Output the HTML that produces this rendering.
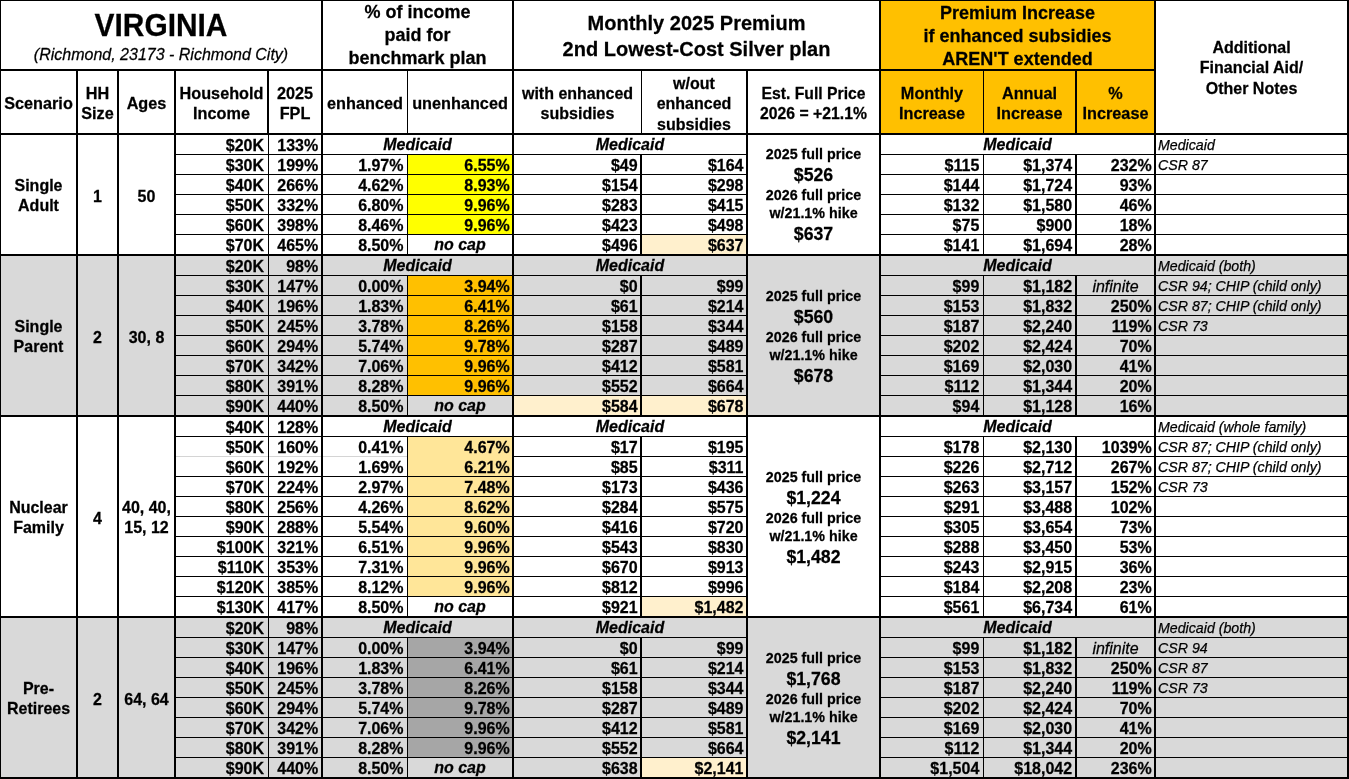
<!DOCTYPE html>
<html lang="en"><head><meta charset="utf-8"><title>Virginia premium table</title>
<style>
html,body{margin:0;padding:0;background:#fff}
body{width:1349px;height:779px;position:relative;overflow:hidden;font-family:"Liberation Sans",Arial,Helvetica,sans-serif;color:#000;font-weight:700;font-size:16px;line-height:20px}
.b,.k,.t{position:absolute}
#tx{position:absolute;left:0;top:0;width:1349px;height:779px;will-change:transform;-webkit-text-stroke:0.25px #000}
.k{background:#000}
.t{display:flex;align-items:center;white-space:nowrap;--dy:0.6px;--sy:1.05}
.t span{display:block;width:100%;transform:translateY(var(--dy)) scaleY(var(--sy));transform-origin:50% 50%}
.c{text-align:center}
.r{text-align:right}
.it{font-style:italic;font-weight:400}
.bi{font-style:italic;--dy:0px}
.n{font-size:14.2px;text-align:left;padding-left:2px;--dy:0.2px;--sy:1.0}
i{font-style:normal;display:block}
.est .s{font-size:14.3px;line-height:17.05px}
.est .g{font-size:17.7px;line-height:20.6px}
.est .s1{line-height:19.2px}
.est .g2{line-height:22.9px}
.hd0{--dy:1.0px}
.ttl{font-size:29.9px;line-height:33px}
.sub{font-size:16px;line-height:21px;font-style:italic;font-weight:400;position:relative;top:0.6px}
.h1{font-size:18px;line-height:21.9px;--dy:1.1px}
.h1b{font-size:20px;line-height:24.1px}
.h1c{font-size:18px;line-height:22.2px}
.h2{font-size:16.25px;line-height:19.3px;--dy:1.6px}
.h2b{font-size:16px}
.h2c{font-size:15.75px}
.h3{font-size:16px;line-height:19.3px}
.sc{line-height:19.3px;--dy:1.6px}
</style></head>
<body>
<div class="b" style="left:881px;top:1px;width:273px;height:132px;background:#ffc000"></div>
<div class="b" style="left:408px;top:155px;width:104px;height:19px;background:#ffff00"></div>
<div class="b" style="left:408px;top:175px;width:104px;height:19px;background:#ffff00"></div>
<div class="b" style="left:408px;top:195px;width:104px;height:19px;background:#ffff00"></div>
<div class="b" style="left:408px;top:215px;width:104px;height:19px;background:#ffff00"></div>
<div class="b" style="left:642px;top:235px;width:104px;height:19px;background:#fff0cd"></div>
<div class="b" style="left:1px;top:256px;width:1346px;height:159px;background:#d9d9d9"></div>
<div class="b" style="left:408px;top:276px;width:104px;height:19px;background:#ffc000"></div>
<div class="b" style="left:408px;top:296px;width:104px;height:19px;background:#ffc000"></div>
<div class="b" style="left:408px;top:316px;width:104px;height:19px;background:#ffc000"></div>
<div class="b" style="left:408px;top:336px;width:104px;height:19px;background:#ffc000"></div>
<div class="b" style="left:408px;top:356px;width:104px;height:19px;background:#ffc000"></div>
<div class="b" style="left:408px;top:376px;width:104px;height:19px;background:#ffc000"></div>
<div class="b" style="left:514px;top:396px;width:126px;height:19px;background:#fff0cd"></div>
<div class="b" style="left:642px;top:396px;width:104px;height:19px;background:#fff0cd"></div>
<div class="b" style="left:408px;top:437px;width:104px;height:20px;background:#ffe699"></div>
<div class="b" style="left:408px;top:457px;width:104px;height:19px;background:#ffe699"></div>
<div class="b" style="left:408px;top:477px;width:104px;height:19px;background:#ffe699"></div>
<div class="b" style="left:408px;top:497px;width:104px;height:19px;background:#ffe699"></div>
<div class="b" style="left:408px;top:517px;width:104px;height:19px;background:#ffe699"></div>
<div class="b" style="left:408px;top:537px;width:104px;height:19px;background:#ffe699"></div>
<div class="b" style="left:408px;top:557px;width:104px;height:19px;background:#ffe699"></div>
<div class="b" style="left:408px;top:577px;width:104px;height:19px;background:#ffe699"></div>
<div class="b" style="left:642px;top:597px;width:104px;height:19px;background:#fff0cd"></div>
<div class="b" style="left:1px;top:618px;width:1346px;height:159px;background:#d9d9d9"></div>
<div class="b" style="left:408px;top:638px;width:104px;height:19px;background:#a6a6a6"></div>
<div class="b" style="left:408px;top:658px;width:104px;height:19px;background:#a6a6a6"></div>
<div class="b" style="left:408px;top:678px;width:104px;height:19px;background:#a6a6a6"></div>
<div class="b" style="left:408px;top:698px;width:104px;height:19px;background:#a6a6a6"></div>
<div class="b" style="left:408px;top:718px;width:104px;height:19px;background:#a6a6a6"></div>
<div class="b" style="left:408px;top:738px;width:104px;height:19px;background:#a6a6a6"></div>
<div class="b" style="left:642px;top:758px;width:104px;height:19px;background:#fff0cd"></div>
<div class="k" style="left:0px;top:0px;width:1349px;height:1px"></div>
<div class="k" style="left:0px;top:0px;width:1px;height:779px"></div>
<div class="k" style="left:1347px;top:0px;width:2px;height:779px"></div>
<div class="k" style="left:0px;top:777px;width:1349px;height:2px"></div>
<div class="k" style="left:0px;top:69px;width:1154px;height:2px"></div>
<div class="k" style="left:0px;top:133px;width:1349px;height:2px"></div>
<div class="k" style="left:321px;top:0px;width:2px;height:69px"></div>
<div class="k" style="left:512px;top:0px;width:2px;height:69px"></div>
<div class="k" style="left:879px;top:0px;width:2px;height:69px"></div>
<div class="k" style="left:1154px;top:0px;width:2px;height:69px"></div>
<div class="k" style="left:76px;top:69px;width:2px;height:66px"></div>
<div class="k" style="left:117px;top:69px;width:2px;height:66px"></div>
<div class="k" style="left:174px;top:69px;width:2px;height:66px"></div>
<div class="k" style="left:267px;top:69px;width:2px;height:66px"></div>
<div class="k" style="left:321px;top:69px;width:2px;height:66px"></div>
<div class="k" style="left:407px;top:69px;width:1px;height:66px"></div>
<div class="k" style="left:512px;top:69px;width:2px;height:66px"></div>
<div class="k" style="left:641px;top:69px;width:1px;height:66px"></div>
<div class="k" style="left:746px;top:69px;width:2px;height:66px"></div>
<div class="k" style="left:879px;top:69px;width:2px;height:66px"></div>
<div class="k" style="left:983px;top:69px;width:1px;height:66px"></div>
<div class="k" style="left:1075px;top:69px;width:2px;height:66px"></div>
<div class="k" style="left:1154px;top:69px;width:2px;height:66px"></div>
<div class="k" style="left:76px;top:134px;width:2px;height:645px"></div>
<div class="k" style="left:117px;top:134px;width:2px;height:645px"></div>
<div class="k" style="left:174px;top:134px;width:2px;height:645px"></div>
<div class="k" style="left:321px;top:134px;width:2px;height:645px"></div>
<div class="k" style="left:512px;top:134px;width:2px;height:645px"></div>
<div class="k" style="left:746px;top:134px;width:2px;height:645px"></div>
<div class="k" style="left:879px;top:134px;width:2px;height:645px"></div>
<div class="k" style="left:1154px;top:134px;width:2px;height:645px"></div>
<div class="k" style="left:176px;top:154px;width:570px;height:1px"></div>
<div class="k" style="left:881px;top:154px;width:466px;height:1px"></div>
<div class="k" style="left:268px;top:134px;width:1px;height:21px"></div>
<div class="k" style="left:176px;top:174px;width:570px;height:1px"></div>
<div class="k" style="left:881px;top:174px;width:466px;height:1px"></div>
<div class="k" style="left:268px;top:154px;width:1px;height:21px"></div>
<div class="k" style="left:407px;top:154px;width:1px;height:21px"></div>
<div class="k" style="left:640px;top:154px;width:2px;height:21px"></div>
<div class="k" style="left:983px;top:154px;width:1px;height:21px"></div>
<div class="k" style="left:1075px;top:154px;width:2px;height:21px"></div>
<div class="k" style="left:176px;top:194px;width:570px;height:1px"></div>
<div class="k" style="left:881px;top:194px;width:466px;height:1px"></div>
<div class="k" style="left:268px;top:174px;width:1px;height:21px"></div>
<div class="k" style="left:407px;top:174px;width:1px;height:21px"></div>
<div class="k" style="left:640px;top:174px;width:2px;height:21px"></div>
<div class="k" style="left:983px;top:174px;width:1px;height:21px"></div>
<div class="k" style="left:1075px;top:174px;width:2px;height:21px"></div>
<div class="k" style="left:176px;top:214px;width:570px;height:1px"></div>
<div class="k" style="left:881px;top:214px;width:466px;height:1px"></div>
<div class="k" style="left:268px;top:194px;width:1px;height:21px"></div>
<div class="k" style="left:407px;top:194px;width:1px;height:21px"></div>
<div class="k" style="left:640px;top:194px;width:2px;height:21px"></div>
<div class="k" style="left:983px;top:194px;width:1px;height:21px"></div>
<div class="k" style="left:1075px;top:194px;width:2px;height:21px"></div>
<div class="k" style="left:176px;top:234px;width:570px;height:1px"></div>
<div class="k" style="left:881px;top:234px;width:466px;height:1px"></div>
<div class="k" style="left:268px;top:214px;width:1px;height:21px"></div>
<div class="k" style="left:407px;top:214px;width:1px;height:21px"></div>
<div class="k" style="left:640px;top:214px;width:2px;height:21px"></div>
<div class="k" style="left:983px;top:214px;width:1px;height:21px"></div>
<div class="k" style="left:1075px;top:214px;width:2px;height:21px"></div>
<div class="k" style="left:268px;top:234px;width:1px;height:21px"></div>
<div class="k" style="left:407px;top:234px;width:1px;height:21px"></div>
<div class="k" style="left:640px;top:234px;width:2px;height:21px"></div>
<div class="k" style="left:983px;top:234px;width:1px;height:21px"></div>
<div class="k" style="left:1075px;top:234px;width:2px;height:21px"></div>
<div class="k" style="left:0px;top:254px;width:1349px;height:2px"></div>
<div class="k" style="left:176px;top:275px;width:570px;height:1px"></div>
<div class="k" style="left:881px;top:275px;width:466px;height:1px"></div>
<div class="k" style="left:268px;top:255px;width:1px;height:21px"></div>
<div class="k" style="left:176px;top:295px;width:570px;height:1px"></div>
<div class="k" style="left:881px;top:295px;width:466px;height:1px"></div>
<div class="k" style="left:268px;top:275px;width:1px;height:21px"></div>
<div class="k" style="left:407px;top:275px;width:1px;height:21px"></div>
<div class="k" style="left:640px;top:275px;width:2px;height:21px"></div>
<div class="k" style="left:983px;top:275px;width:1px;height:21px"></div>
<div class="k" style="left:1075px;top:275px;width:2px;height:21px"></div>
<div class="k" style="left:176px;top:315px;width:570px;height:1px"></div>
<div class="k" style="left:881px;top:315px;width:466px;height:1px"></div>
<div class="k" style="left:268px;top:295px;width:1px;height:21px"></div>
<div class="k" style="left:407px;top:295px;width:1px;height:21px"></div>
<div class="k" style="left:640px;top:295px;width:2px;height:21px"></div>
<div class="k" style="left:983px;top:295px;width:1px;height:21px"></div>
<div class="k" style="left:1075px;top:295px;width:2px;height:21px"></div>
<div class="k" style="left:176px;top:335px;width:570px;height:1px"></div>
<div class="k" style="left:881px;top:335px;width:466px;height:1px"></div>
<div class="k" style="left:268px;top:315px;width:1px;height:21px"></div>
<div class="k" style="left:407px;top:315px;width:1px;height:21px"></div>
<div class="k" style="left:640px;top:315px;width:2px;height:21px"></div>
<div class="k" style="left:983px;top:315px;width:1px;height:21px"></div>
<div class="k" style="left:1075px;top:315px;width:2px;height:21px"></div>
<div class="k" style="left:176px;top:355px;width:570px;height:1px"></div>
<div class="k" style="left:881px;top:355px;width:466px;height:1px"></div>
<div class="k" style="left:268px;top:335px;width:1px;height:21px"></div>
<div class="k" style="left:407px;top:335px;width:1px;height:21px"></div>
<div class="k" style="left:640px;top:335px;width:2px;height:21px"></div>
<div class="k" style="left:983px;top:335px;width:1px;height:21px"></div>
<div class="k" style="left:1075px;top:335px;width:2px;height:21px"></div>
<div class="k" style="left:176px;top:375px;width:570px;height:1px"></div>
<div class="k" style="left:881px;top:375px;width:466px;height:1px"></div>
<div class="k" style="left:268px;top:355px;width:1px;height:21px"></div>
<div class="k" style="left:407px;top:355px;width:1px;height:21px"></div>
<div class="k" style="left:640px;top:355px;width:2px;height:21px"></div>
<div class="k" style="left:983px;top:355px;width:1px;height:21px"></div>
<div class="k" style="left:1075px;top:355px;width:2px;height:21px"></div>
<div class="k" style="left:176px;top:395px;width:570px;height:1px"></div>
<div class="k" style="left:881px;top:395px;width:466px;height:1px"></div>
<div class="k" style="left:268px;top:375px;width:1px;height:21px"></div>
<div class="k" style="left:407px;top:375px;width:1px;height:21px"></div>
<div class="k" style="left:640px;top:375px;width:2px;height:21px"></div>
<div class="k" style="left:983px;top:375px;width:1px;height:21px"></div>
<div class="k" style="left:1075px;top:375px;width:2px;height:21px"></div>
<div class="k" style="left:268px;top:395px;width:1px;height:21px"></div>
<div class="k" style="left:407px;top:395px;width:1px;height:21px"></div>
<div class="k" style="left:640px;top:395px;width:2px;height:21px"></div>
<div class="k" style="left:983px;top:395px;width:1px;height:21px"></div>
<div class="k" style="left:1075px;top:395px;width:2px;height:21px"></div>
<div class="k" style="left:0px;top:415px;width:1349px;height:2px"></div>
<div class="k" style="left:176px;top:436px;width:570px;height:1px"></div>
<div class="k" style="left:881px;top:436px;width:466px;height:1px"></div>
<div class="k" style="left:268px;top:416px;width:1px;height:21px"></div>
<div class="k" style="left:176px;top:456px;width:92px;height:1px;background:#d4d4d4"></div>
<div class="k" style="left:269px;top:456px;width:52px;height:1px;background:#d4d4d4"></div>
<div class="k" style="left:323px;top:456px;width:84px;height:1px;background:#d4d4d4"></div>
<div class="k" style="left:514px;top:456px;width:232px;height:1px"></div>
<div class="k" style="left:881px;top:456px;width:466px;height:1px"></div>
<div class="k" style="left:268px;top:436px;width:1px;height:21px"></div>
<div class="k" style="left:407px;top:436px;width:1px;height:21px"></div>
<div class="k" style="left:640px;top:436px;width:2px;height:21px"></div>
<div class="k" style="left:983px;top:436px;width:1px;height:21px"></div>
<div class="k" style="left:1075px;top:436px;width:2px;height:21px"></div>
<div class="k" style="left:176px;top:476px;width:570px;height:1px"></div>
<div class="k" style="left:881px;top:476px;width:466px;height:1px"></div>
<div class="k" style="left:268px;top:456px;width:1px;height:21px"></div>
<div class="k" style="left:407px;top:456px;width:1px;height:21px"></div>
<div class="k" style="left:640px;top:456px;width:2px;height:21px"></div>
<div class="k" style="left:983px;top:456px;width:1px;height:21px"></div>
<div class="k" style="left:1075px;top:456px;width:2px;height:21px"></div>
<div class="k" style="left:176px;top:496px;width:570px;height:1px"></div>
<div class="k" style="left:881px;top:496px;width:466px;height:1px"></div>
<div class="k" style="left:268px;top:476px;width:1px;height:21px"></div>
<div class="k" style="left:407px;top:476px;width:1px;height:21px"></div>
<div class="k" style="left:640px;top:476px;width:2px;height:21px"></div>
<div class="k" style="left:983px;top:476px;width:1px;height:21px"></div>
<div class="k" style="left:1075px;top:476px;width:2px;height:21px"></div>
<div class="k" style="left:176px;top:516px;width:570px;height:1px"></div>
<div class="k" style="left:881px;top:516px;width:466px;height:1px"></div>
<div class="k" style="left:268px;top:496px;width:1px;height:21px"></div>
<div class="k" style="left:407px;top:496px;width:1px;height:21px"></div>
<div class="k" style="left:640px;top:496px;width:2px;height:21px"></div>
<div class="k" style="left:983px;top:496px;width:1px;height:21px"></div>
<div class="k" style="left:1075px;top:496px;width:2px;height:21px"></div>
<div class="k" style="left:176px;top:536px;width:570px;height:1px"></div>
<div class="k" style="left:881px;top:536px;width:466px;height:1px"></div>
<div class="k" style="left:268px;top:516px;width:1px;height:21px"></div>
<div class="k" style="left:407px;top:516px;width:1px;height:21px"></div>
<div class="k" style="left:640px;top:516px;width:2px;height:21px"></div>
<div class="k" style="left:983px;top:516px;width:1px;height:21px"></div>
<div class="k" style="left:1075px;top:516px;width:2px;height:21px"></div>
<div class="k" style="left:176px;top:556px;width:570px;height:1px"></div>
<div class="k" style="left:881px;top:556px;width:466px;height:1px"></div>
<div class="k" style="left:268px;top:536px;width:1px;height:21px"></div>
<div class="k" style="left:407px;top:536px;width:1px;height:21px"></div>
<div class="k" style="left:640px;top:536px;width:2px;height:21px"></div>
<div class="k" style="left:983px;top:536px;width:1px;height:21px"></div>
<div class="k" style="left:1075px;top:536px;width:2px;height:21px"></div>
<div class="k" style="left:176px;top:576px;width:570px;height:1px"></div>
<div class="k" style="left:881px;top:576px;width:466px;height:1px"></div>
<div class="k" style="left:268px;top:556px;width:1px;height:21px"></div>
<div class="k" style="left:407px;top:556px;width:1px;height:21px"></div>
<div class="k" style="left:640px;top:556px;width:2px;height:21px"></div>
<div class="k" style="left:983px;top:556px;width:1px;height:21px"></div>
<div class="k" style="left:1075px;top:556px;width:2px;height:21px"></div>
<div class="k" style="left:176px;top:596px;width:570px;height:1px"></div>
<div class="k" style="left:881px;top:596px;width:466px;height:1px"></div>
<div class="k" style="left:268px;top:576px;width:1px;height:21px"></div>
<div class="k" style="left:407px;top:576px;width:1px;height:21px"></div>
<div class="k" style="left:640px;top:576px;width:2px;height:21px"></div>
<div class="k" style="left:983px;top:576px;width:1px;height:21px"></div>
<div class="k" style="left:1075px;top:576px;width:2px;height:21px"></div>
<div class="k" style="left:268px;top:596px;width:1px;height:21px"></div>
<div class="k" style="left:407px;top:596px;width:1px;height:21px"></div>
<div class="k" style="left:640px;top:596px;width:2px;height:21px"></div>
<div class="k" style="left:983px;top:596px;width:1px;height:21px"></div>
<div class="k" style="left:1075px;top:596px;width:2px;height:21px"></div>
<div class="k" style="left:0px;top:616px;width:1349px;height:2px"></div>
<div class="k" style="left:176px;top:637px;width:570px;height:1px"></div>
<div class="k" style="left:881px;top:637px;width:466px;height:1px"></div>
<div class="k" style="left:268px;top:617px;width:1px;height:21px"></div>
<div class="k" style="left:176px;top:657px;width:570px;height:1px"></div>
<div class="k" style="left:881px;top:657px;width:466px;height:1px"></div>
<div class="k" style="left:268px;top:637px;width:1px;height:21px"></div>
<div class="k" style="left:407px;top:637px;width:1px;height:21px"></div>
<div class="k" style="left:640px;top:637px;width:2px;height:21px"></div>
<div class="k" style="left:983px;top:637px;width:1px;height:21px"></div>
<div class="k" style="left:1075px;top:637px;width:2px;height:21px"></div>
<div class="k" style="left:176px;top:677px;width:570px;height:1px"></div>
<div class="k" style="left:881px;top:677px;width:466px;height:1px"></div>
<div class="k" style="left:268px;top:657px;width:1px;height:21px"></div>
<div class="k" style="left:407px;top:657px;width:1px;height:21px"></div>
<div class="k" style="left:640px;top:657px;width:2px;height:21px"></div>
<div class="k" style="left:983px;top:657px;width:1px;height:21px"></div>
<div class="k" style="left:1075px;top:657px;width:2px;height:21px"></div>
<div class="k" style="left:176px;top:697px;width:570px;height:1px"></div>
<div class="k" style="left:881px;top:697px;width:466px;height:1px"></div>
<div class="k" style="left:268px;top:677px;width:1px;height:21px"></div>
<div class="k" style="left:407px;top:677px;width:1px;height:21px"></div>
<div class="k" style="left:640px;top:677px;width:2px;height:21px"></div>
<div class="k" style="left:983px;top:677px;width:1px;height:21px"></div>
<div class="k" style="left:1075px;top:677px;width:2px;height:21px"></div>
<div class="k" style="left:176px;top:717px;width:570px;height:1px"></div>
<div class="k" style="left:881px;top:717px;width:466px;height:1px"></div>
<div class="k" style="left:268px;top:697px;width:1px;height:21px"></div>
<div class="k" style="left:407px;top:697px;width:1px;height:21px"></div>
<div class="k" style="left:640px;top:697px;width:2px;height:21px"></div>
<div class="k" style="left:983px;top:697px;width:1px;height:21px"></div>
<div class="k" style="left:1075px;top:697px;width:2px;height:21px"></div>
<div class="k" style="left:176px;top:737px;width:570px;height:1px"></div>
<div class="k" style="left:881px;top:737px;width:466px;height:1px"></div>
<div class="k" style="left:268px;top:717px;width:1px;height:21px"></div>
<div class="k" style="left:407px;top:717px;width:1px;height:21px"></div>
<div class="k" style="left:640px;top:717px;width:2px;height:21px"></div>
<div class="k" style="left:983px;top:717px;width:1px;height:21px"></div>
<div class="k" style="left:1075px;top:717px;width:2px;height:21px"></div>
<div class="k" style="left:176px;top:757px;width:570px;height:1px"></div>
<div class="k" style="left:881px;top:757px;width:466px;height:1px"></div>
<div class="k" style="left:268px;top:737px;width:1px;height:21px"></div>
<div class="k" style="left:407px;top:737px;width:1px;height:21px"></div>
<div class="k" style="left:640px;top:737px;width:2px;height:21px"></div>
<div class="k" style="left:983px;top:737px;width:1px;height:21px"></div>
<div class="k" style="left:1075px;top:737px;width:2px;height:21px"></div>
<div class="k" style="left:268px;top:757px;width:1px;height:21px"></div>
<div class="k" style="left:407px;top:757px;width:1px;height:21px"></div>
<div class="k" style="left:640px;top:757px;width:2px;height:21px"></div>
<div class="k" style="left:983px;top:757px;width:1px;height:21px"></div>
<div class="k" style="left:1075px;top:757px;width:2px;height:21px"></div>
<div id="tx">
<div class="t c sc" style="left:1px;top:135px;width:75px;height:119px;"><span>Single<br>Adult</span></div>
<div class="t c sc" style="left:78px;top:135px;width:39px;height:119px;"><span>1</span></div>
<div class="t c sc" style="left:119px;top:135px;width:55px;height:119px;"><span>50</span></div>
<div class="t c est" style="left:748px;top:135px;width:131px;height:119px;--dy:1.1px"><span><i class="s s1">2025 full price</i><i class="g g1">$526</i><i class="s s2">2026 full price</i><i class="s s2">w/21.1% hike</i><i class="g g2">$637</i></span></div>
<div class="t r" style="left:176px;top:135px;width:88px;height:19px;"><span>$20K</span></div>
<div class="t r" style="left:269px;top:135px;width:49.2px;height:19px;"><span>133%</span></div>
<div class="t c bi" style="left:323px;top:135px;width:189px;height:19px;"><span>Medicaid</span></div>
<div class="t c bi" style="left:514px;top:135px;width:232px;height:19px;"><span>Medicaid</span></div>
<div class="t c bi" style="left:881px;top:135px;width:273px;height:19px;"><span>Medicaid</span></div>
<div class="t lf it n" style="left:1156px;top:135px;width:191px;height:19px;"><span>Medicaid</span></div>
<div class="t r" style="left:176px;top:155px;width:88px;height:19px;"><span>$30K</span></div>
<div class="t r" style="left:269px;top:155px;width:49.2px;height:19px;"><span>199%</span></div>
<div class="t r" style="left:323px;top:155px;width:80.5px;height:19px;"><span>1.97%</span></div>
<div class="t r" style="left:408px;top:155px;width:101.7px;height:19px;"><span>6.55%</span></div>
<div class="t r" style="left:514px;top:155px;width:123.6px;height:19px;"><span>$49</span></div>
<div class="t r" style="left:642px;top:155px;width:101.5px;height:19px;"><span>$164</span></div>
<div class="t r" style="left:881px;top:155px;width:98.3px;height:19px;"><span>$115</span></div>
<div class="t r" style="left:984px;top:155px;width:88.1px;height:19px;"><span>$1,374</span></div>
<div class="t r" style="left:1077px;top:155px;width:74.7px;height:19px;"><span>232%</span></div>
<div class="t lf it n" style="left:1156px;top:155px;width:191px;height:19px;"><span>CSR 87</span></div>
<div class="t r" style="left:176px;top:175px;width:88px;height:19px;"><span>$40K</span></div>
<div class="t r" style="left:269px;top:175px;width:49.2px;height:19px;"><span>266%</span></div>
<div class="t r" style="left:323px;top:175px;width:80.5px;height:19px;"><span>4.62%</span></div>
<div class="t r" style="left:408px;top:175px;width:101.7px;height:19px;"><span>8.93%</span></div>
<div class="t r" style="left:514px;top:175px;width:123.6px;height:19px;"><span>$154</span></div>
<div class="t r" style="left:642px;top:175px;width:101.5px;height:19px;"><span>$298</span></div>
<div class="t r" style="left:881px;top:175px;width:98.3px;height:19px;"><span>$144</span></div>
<div class="t r" style="left:984px;top:175px;width:88.1px;height:19px;"><span>$1,724</span></div>
<div class="t r" style="left:1077px;top:175px;width:74.7px;height:19px;"><span>93%</span></div>
<div class="t r" style="left:176px;top:195px;width:88px;height:19px;"><span>$50K</span></div>
<div class="t r" style="left:269px;top:195px;width:49.2px;height:19px;"><span>332%</span></div>
<div class="t r" style="left:323px;top:195px;width:80.5px;height:19px;"><span>6.80%</span></div>
<div class="t r" style="left:408px;top:195px;width:101.7px;height:19px;"><span>9.96%</span></div>
<div class="t r" style="left:514px;top:195px;width:123.6px;height:19px;"><span>$283</span></div>
<div class="t r" style="left:642px;top:195px;width:101.5px;height:19px;"><span>$415</span></div>
<div class="t r" style="left:881px;top:195px;width:98.3px;height:19px;"><span>$132</span></div>
<div class="t r" style="left:984px;top:195px;width:88.1px;height:19px;"><span>$1,580</span></div>
<div class="t r" style="left:1077px;top:195px;width:74.7px;height:19px;"><span>46%</span></div>
<div class="t r" style="left:176px;top:215px;width:88px;height:19px;"><span>$60K</span></div>
<div class="t r" style="left:269px;top:215px;width:49.2px;height:19px;"><span>398%</span></div>
<div class="t r" style="left:323px;top:215px;width:80.5px;height:19px;"><span>8.46%</span></div>
<div class="t r" style="left:408px;top:215px;width:101.7px;height:19px;"><span>9.96%</span></div>
<div class="t r" style="left:514px;top:215px;width:123.6px;height:19px;"><span>$423</span></div>
<div class="t r" style="left:642px;top:215px;width:101.5px;height:19px;"><span>$498</span></div>
<div class="t r" style="left:881px;top:215px;width:98.3px;height:19px;"><span>$75</span></div>
<div class="t r" style="left:984px;top:215px;width:88.1px;height:19px;"><span>$900</span></div>
<div class="t r" style="left:1077px;top:215px;width:74.7px;height:19px;"><span>18%</span></div>
<div class="t r" style="left:176px;top:235px;width:88px;height:19px;"><span>$70K</span></div>
<div class="t r" style="left:269px;top:235px;width:49.2px;height:19px;"><span>465%</span></div>
<div class="t r" style="left:323px;top:235px;width:80.5px;height:19px;"><span>8.50%</span></div>
<div class="t c bi" style="left:408px;top:235px;width:104px;height:19px;"><span>no cap</span></div>
<div class="t r" style="left:514px;top:235px;width:123.6px;height:19px;"><span>$496</span></div>
<div class="t r" style="left:642px;top:235px;width:101.5px;height:19px;"><span>$637</span></div>
<div class="t r" style="left:881px;top:235px;width:98.3px;height:19px;"><span>$141</span></div>
<div class="t r" style="left:984px;top:235px;width:88.1px;height:19px;"><span>$1,694</span></div>
<div class="t r" style="left:1077px;top:235px;width:74.7px;height:19px;"><span>28%</span></div>
<div class="t c sc" style="left:1px;top:256px;width:75px;height:159px;"><span>Single<br>Parent</span></div>
<div class="t c sc" style="left:78px;top:256px;width:39px;height:159px;"><span>2</span></div>
<div class="t c sc" style="left:119px;top:256px;width:55px;height:159px;"><span>30, 8</span></div>
<div class="t c est" style="left:748px;top:256px;width:131px;height:159px;--dy:1.8px"><span><i class="s s1">2025 full price</i><i class="g g1">$560</i><i class="s s2">2026 full price</i><i class="s s2">w/21.1% hike</i><i class="g g2">$678</i></span></div>
<div class="t r" style="left:176px;top:256px;width:88px;height:19px;"><span>$20K</span></div>
<div class="t r" style="left:269px;top:256px;width:49.2px;height:19px;"><span>98%</span></div>
<div class="t c bi" style="left:323px;top:256px;width:189px;height:19px;"><span>Medicaid</span></div>
<div class="t c bi" style="left:514px;top:256px;width:232px;height:19px;"><span>Medicaid</span></div>
<div class="t c bi" style="left:881px;top:256px;width:273px;height:19px;"><span>Medicaid</span></div>
<div class="t lf it n" style="left:1156px;top:256px;width:191px;height:19px;"><span>Medicaid (both)</span></div>
<div class="t r" style="left:176px;top:276px;width:88px;height:19px;"><span>$30K</span></div>
<div class="t r" style="left:269px;top:276px;width:49.2px;height:19px;"><span>147%</span></div>
<div class="t r" style="left:323px;top:276px;width:80.5px;height:19px;"><span>0.00%</span></div>
<div class="t r" style="left:408px;top:276px;width:101.7px;height:19px;"><span>3.94%</span></div>
<div class="t r" style="left:514px;top:276px;width:123.6px;height:19px;"><span>$0</span></div>
<div class="t r" style="left:642px;top:276px;width:101.5px;height:19px;"><span>$99</span></div>
<div class="t r" style="left:881px;top:276px;width:98.3px;height:19px;"><span>$99</span></div>
<div class="t r" style="left:984px;top:276px;width:88.1px;height:19px;"><span>$1,182</span></div>
<div class="t c it" style="left:1077px;top:276px;width:77px;height:19px;"><span>infinite</span></div>
<div class="t lf it n" style="left:1156px;top:276px;width:191px;height:19px;"><span>CSR 94; CHIP (child only)</span></div>
<div class="t r" style="left:176px;top:296px;width:88px;height:19px;"><span>$40K</span></div>
<div class="t r" style="left:269px;top:296px;width:49.2px;height:19px;"><span>196%</span></div>
<div class="t r" style="left:323px;top:296px;width:80.5px;height:19px;"><span>1.83%</span></div>
<div class="t r" style="left:408px;top:296px;width:101.7px;height:19px;"><span>6.41%</span></div>
<div class="t r" style="left:514px;top:296px;width:123.6px;height:19px;"><span>$61</span></div>
<div class="t r" style="left:642px;top:296px;width:101.5px;height:19px;"><span>$214</span></div>
<div class="t r" style="left:881px;top:296px;width:98.3px;height:19px;"><span>$153</span></div>
<div class="t r" style="left:984px;top:296px;width:88.1px;height:19px;"><span>$1,832</span></div>
<div class="t r" style="left:1077px;top:296px;width:74.7px;height:19px;"><span>250%</span></div>
<div class="t lf it n" style="left:1156px;top:296px;width:191px;height:19px;"><span>CSR 87; CHIP (child only)</span></div>
<div class="t r" style="left:176px;top:316px;width:88px;height:19px;"><span>$50K</span></div>
<div class="t r" style="left:269px;top:316px;width:49.2px;height:19px;"><span>245%</span></div>
<div class="t r" style="left:323px;top:316px;width:80.5px;height:19px;"><span>3.78%</span></div>
<div class="t r" style="left:408px;top:316px;width:101.7px;height:19px;"><span>8.26%</span></div>
<div class="t r" style="left:514px;top:316px;width:123.6px;height:19px;"><span>$158</span></div>
<div class="t r" style="left:642px;top:316px;width:101.5px;height:19px;"><span>$344</span></div>
<div class="t r" style="left:881px;top:316px;width:98.3px;height:19px;"><span>$187</span></div>
<div class="t r" style="left:984px;top:316px;width:88.1px;height:19px;"><span>$2,240</span></div>
<div class="t r" style="left:1077px;top:316px;width:74.7px;height:19px;"><span>119%</span></div>
<div class="t lf it n" style="left:1156px;top:316px;width:191px;height:19px;"><span>CSR 73</span></div>
<div class="t r" style="left:176px;top:336px;width:88px;height:19px;"><span>$60K</span></div>
<div class="t r" style="left:269px;top:336px;width:49.2px;height:19px;"><span>294%</span></div>
<div class="t r" style="left:323px;top:336px;width:80.5px;height:19px;"><span>5.74%</span></div>
<div class="t r" style="left:408px;top:336px;width:101.7px;height:19px;"><span>9.78%</span></div>
<div class="t r" style="left:514px;top:336px;width:123.6px;height:19px;"><span>$287</span></div>
<div class="t r" style="left:642px;top:336px;width:101.5px;height:19px;"><span>$489</span></div>
<div class="t r" style="left:881px;top:336px;width:98.3px;height:19px;"><span>$202</span></div>
<div class="t r" style="left:984px;top:336px;width:88.1px;height:19px;"><span>$2,424</span></div>
<div class="t r" style="left:1077px;top:336px;width:74.7px;height:19px;"><span>70%</span></div>
<div class="t r" style="left:176px;top:356px;width:88px;height:19px;"><span>$70K</span></div>
<div class="t r" style="left:269px;top:356px;width:49.2px;height:19px;"><span>342%</span></div>
<div class="t r" style="left:323px;top:356px;width:80.5px;height:19px;"><span>7.06%</span></div>
<div class="t r" style="left:408px;top:356px;width:101.7px;height:19px;"><span>9.96%</span></div>
<div class="t r" style="left:514px;top:356px;width:123.6px;height:19px;"><span>$412</span></div>
<div class="t r" style="left:642px;top:356px;width:101.5px;height:19px;"><span>$581</span></div>
<div class="t r" style="left:881px;top:356px;width:98.3px;height:19px;"><span>$169</span></div>
<div class="t r" style="left:984px;top:356px;width:88.1px;height:19px;"><span>$2,030</span></div>
<div class="t r" style="left:1077px;top:356px;width:74.7px;height:19px;"><span>41%</span></div>
<div class="t r" style="left:176px;top:376px;width:88px;height:19px;"><span>$80K</span></div>
<div class="t r" style="left:269px;top:376px;width:49.2px;height:19px;"><span>391%</span></div>
<div class="t r" style="left:323px;top:376px;width:80.5px;height:19px;"><span>8.28%</span></div>
<div class="t r" style="left:408px;top:376px;width:101.7px;height:19px;"><span>9.96%</span></div>
<div class="t r" style="left:514px;top:376px;width:123.6px;height:19px;"><span>$552</span></div>
<div class="t r" style="left:642px;top:376px;width:101.5px;height:19px;"><span>$664</span></div>
<div class="t r" style="left:881px;top:376px;width:98.3px;height:19px;"><span>$112</span></div>
<div class="t r" style="left:984px;top:376px;width:88.1px;height:19px;"><span>$1,344</span></div>
<div class="t r" style="left:1077px;top:376px;width:74.7px;height:19px;"><span>20%</span></div>
<div class="t r" style="left:176px;top:396px;width:88px;height:19px;"><span>$90K</span></div>
<div class="t r" style="left:269px;top:396px;width:49.2px;height:19px;"><span>440%</span></div>
<div class="t r" style="left:323px;top:396px;width:80.5px;height:19px;"><span>8.50%</span></div>
<div class="t c bi" style="left:408px;top:396px;width:104px;height:19px;"><span>no cap</span></div>
<div class="t r" style="left:514px;top:396px;width:123.6px;height:19px;"><span>$584</span></div>
<div class="t r" style="left:642px;top:396px;width:101.5px;height:19px;"><span>$678</span></div>
<div class="t r" style="left:881px;top:396px;width:98.3px;height:19px;"><span>$94</span></div>
<div class="t r" style="left:984px;top:396px;width:88.1px;height:19px;"><span>$1,128</span></div>
<div class="t r" style="left:1077px;top:396px;width:74.7px;height:19px;"><span>16%</span></div>
<div class="t c sc" style="left:1px;top:417px;width:75px;height:199px;"><span>Nuclear<br>Family</span></div>
<div class="t c sc" style="left:78px;top:417px;width:39px;height:199px;"><span>4</span></div>
<div class="t c sc" style="left:119px;top:417px;width:55px;height:199px;"><span>40, 40,<br>15, 12</span></div>
<div class="t c est" style="left:748px;top:417px;width:131px;height:199px;--dy:1.8px"><span><i class="s s1">2025 full price</i><i class="g g1">$1,224</i><i class="s s2">2026 full price</i><i class="s s2">w/21.1% hike</i><i class="g g2">$1,482</i></span></div>
<div class="t r" style="left:176px;top:417px;width:88px;height:19px;"><span>$40K</span></div>
<div class="t r" style="left:269px;top:417px;width:49.2px;height:19px;"><span>128%</span></div>
<div class="t c bi" style="left:323px;top:417px;width:189px;height:19px;"><span>Medicaid</span></div>
<div class="t c bi" style="left:514px;top:417px;width:232px;height:19px;"><span>Medicaid</span></div>
<div class="t c bi" style="left:881px;top:417px;width:273px;height:19px;"><span>Medicaid</span></div>
<div class="t lf it n" style="left:1156px;top:417px;width:191px;height:19px;"><span>Medicaid (whole family)</span></div>
<div class="t r" style="left:176px;top:437px;width:88px;height:19px;"><span>$50K</span></div>
<div class="t r" style="left:269px;top:437px;width:49.2px;height:19px;"><span>160%</span></div>
<div class="t r" style="left:323px;top:437px;width:80.5px;height:19px;"><span>0.41%</span></div>
<div class="t r" style="left:408px;top:437px;width:101.7px;height:19px;"><span>4.67%</span></div>
<div class="t r" style="left:514px;top:437px;width:123.6px;height:19px;"><span>$17</span></div>
<div class="t r" style="left:642px;top:437px;width:101.5px;height:19px;"><span>$195</span></div>
<div class="t r" style="left:881px;top:437px;width:98.3px;height:19px;"><span>$178</span></div>
<div class="t r" style="left:984px;top:437px;width:88.1px;height:19px;"><span>$2,130</span></div>
<div class="t r" style="left:1077px;top:437px;width:74.7px;height:19px;"><span>1039%</span></div>
<div class="t lf it n" style="left:1156px;top:437px;width:191px;height:19px;"><span>CSR 87; CHIP (child only)</span></div>
<div class="t r" style="left:176px;top:457px;width:88px;height:19px;"><span>$60K</span></div>
<div class="t r" style="left:269px;top:457px;width:49.2px;height:19px;"><span>192%</span></div>
<div class="t r" style="left:323px;top:457px;width:80.5px;height:19px;"><span>1.69%</span></div>
<div class="t r" style="left:408px;top:457px;width:101.7px;height:19px;"><span>6.21%</span></div>
<div class="t r" style="left:514px;top:457px;width:123.6px;height:19px;"><span>$85</span></div>
<div class="t r" style="left:642px;top:457px;width:101.5px;height:19px;"><span>$311</span></div>
<div class="t r" style="left:881px;top:457px;width:98.3px;height:19px;"><span>$226</span></div>
<div class="t r" style="left:984px;top:457px;width:88.1px;height:19px;"><span>$2,712</span></div>
<div class="t r" style="left:1077px;top:457px;width:74.7px;height:19px;"><span>267%</span></div>
<div class="t lf it n" style="left:1156px;top:457px;width:191px;height:19px;"><span>CSR 87; CHIP (child only)</span></div>
<div class="t r" style="left:176px;top:477px;width:88px;height:19px;"><span>$70K</span></div>
<div class="t r" style="left:269px;top:477px;width:49.2px;height:19px;"><span>224%</span></div>
<div class="t r" style="left:323px;top:477px;width:80.5px;height:19px;"><span>2.97%</span></div>
<div class="t r" style="left:408px;top:477px;width:101.7px;height:19px;"><span>7.48%</span></div>
<div class="t r" style="left:514px;top:477px;width:123.6px;height:19px;"><span>$173</span></div>
<div class="t r" style="left:642px;top:477px;width:101.5px;height:19px;"><span>$436</span></div>
<div class="t r" style="left:881px;top:477px;width:98.3px;height:19px;"><span>$263</span></div>
<div class="t r" style="left:984px;top:477px;width:88.1px;height:19px;"><span>$3,157</span></div>
<div class="t r" style="left:1077px;top:477px;width:74.7px;height:19px;"><span>152%</span></div>
<div class="t lf it n" style="left:1156px;top:477px;width:191px;height:19px;"><span>CSR 73</span></div>
<div class="t r" style="left:176px;top:497px;width:88px;height:19px;"><span>$80K</span></div>
<div class="t r" style="left:269px;top:497px;width:49.2px;height:19px;"><span>256%</span></div>
<div class="t r" style="left:323px;top:497px;width:80.5px;height:19px;"><span>4.26%</span></div>
<div class="t r" style="left:408px;top:497px;width:101.7px;height:19px;"><span>8.62%</span></div>
<div class="t r" style="left:514px;top:497px;width:123.6px;height:19px;"><span>$284</span></div>
<div class="t r" style="left:642px;top:497px;width:101.5px;height:19px;"><span>$575</span></div>
<div class="t r" style="left:881px;top:497px;width:98.3px;height:19px;"><span>$291</span></div>
<div class="t r" style="left:984px;top:497px;width:88.1px;height:19px;"><span>$3,488</span></div>
<div class="t r" style="left:1077px;top:497px;width:74.7px;height:19px;"><span>102%</span></div>
<div class="t r" style="left:176px;top:517px;width:88px;height:19px;"><span>$90K</span></div>
<div class="t r" style="left:269px;top:517px;width:49.2px;height:19px;"><span>288%</span></div>
<div class="t r" style="left:323px;top:517px;width:80.5px;height:19px;"><span>5.54%</span></div>
<div class="t r" style="left:408px;top:517px;width:101.7px;height:19px;"><span>9.60%</span></div>
<div class="t r" style="left:514px;top:517px;width:123.6px;height:19px;"><span>$416</span></div>
<div class="t r" style="left:642px;top:517px;width:101.5px;height:19px;"><span>$720</span></div>
<div class="t r" style="left:881px;top:517px;width:98.3px;height:19px;"><span>$305</span></div>
<div class="t r" style="left:984px;top:517px;width:88.1px;height:19px;"><span>$3,654</span></div>
<div class="t r" style="left:1077px;top:517px;width:74.7px;height:19px;"><span>73%</span></div>
<div class="t r" style="left:176px;top:537px;width:88px;height:19px;"><span>$100K</span></div>
<div class="t r" style="left:269px;top:537px;width:49.2px;height:19px;"><span>321%</span></div>
<div class="t r" style="left:323px;top:537px;width:80.5px;height:19px;"><span>6.51%</span></div>
<div class="t r" style="left:408px;top:537px;width:101.7px;height:19px;"><span>9.96%</span></div>
<div class="t r" style="left:514px;top:537px;width:123.6px;height:19px;"><span>$543</span></div>
<div class="t r" style="left:642px;top:537px;width:101.5px;height:19px;"><span>$830</span></div>
<div class="t r" style="left:881px;top:537px;width:98.3px;height:19px;"><span>$288</span></div>
<div class="t r" style="left:984px;top:537px;width:88.1px;height:19px;"><span>$3,450</span></div>
<div class="t r" style="left:1077px;top:537px;width:74.7px;height:19px;"><span>53%</span></div>
<div class="t r" style="left:176px;top:557px;width:88px;height:19px;"><span>$110K</span></div>
<div class="t r" style="left:269px;top:557px;width:49.2px;height:19px;"><span>353%</span></div>
<div class="t r" style="left:323px;top:557px;width:80.5px;height:19px;"><span>7.31%</span></div>
<div class="t r" style="left:408px;top:557px;width:101.7px;height:19px;"><span>9.96%</span></div>
<div class="t r" style="left:514px;top:557px;width:123.6px;height:19px;"><span>$670</span></div>
<div class="t r" style="left:642px;top:557px;width:101.5px;height:19px;"><span>$913</span></div>
<div class="t r" style="left:881px;top:557px;width:98.3px;height:19px;"><span>$243</span></div>
<div class="t r" style="left:984px;top:557px;width:88.1px;height:19px;"><span>$2,915</span></div>
<div class="t r" style="left:1077px;top:557px;width:74.7px;height:19px;"><span>36%</span></div>
<div class="t r" style="left:176px;top:577px;width:88px;height:19px;"><span>$120K</span></div>
<div class="t r" style="left:269px;top:577px;width:49.2px;height:19px;"><span>385%</span></div>
<div class="t r" style="left:323px;top:577px;width:80.5px;height:19px;"><span>8.12%</span></div>
<div class="t r" style="left:408px;top:577px;width:101.7px;height:19px;"><span>9.96%</span></div>
<div class="t r" style="left:514px;top:577px;width:123.6px;height:19px;"><span>$812</span></div>
<div class="t r" style="left:642px;top:577px;width:101.5px;height:19px;"><span>$996</span></div>
<div class="t r" style="left:881px;top:577px;width:98.3px;height:19px;"><span>$184</span></div>
<div class="t r" style="left:984px;top:577px;width:88.1px;height:19px;"><span>$2,208</span></div>
<div class="t r" style="left:1077px;top:577px;width:74.7px;height:19px;"><span>23%</span></div>
<div class="t r" style="left:176px;top:597px;width:88px;height:19px;"><span>$130K</span></div>
<div class="t r" style="left:269px;top:597px;width:49.2px;height:19px;"><span>417%</span></div>
<div class="t r" style="left:323px;top:597px;width:80.5px;height:19px;"><span>8.50%</span></div>
<div class="t c bi" style="left:408px;top:597px;width:104px;height:19px;"><span>no cap</span></div>
<div class="t r" style="left:514px;top:597px;width:123.6px;height:19px;"><span>$921</span></div>
<div class="t r" style="left:642px;top:597px;width:101.5px;height:19px;"><span>$1,482</span></div>
<div class="t r" style="left:881px;top:597px;width:98.3px;height:19px;"><span>$561</span></div>
<div class="t r" style="left:984px;top:597px;width:88.1px;height:19px;"><span>$6,734</span></div>
<div class="t r" style="left:1077px;top:597px;width:74.7px;height:19px;"><span>61%</span></div>
<div class="t c sc" style="left:1px;top:618px;width:75px;height:159px;"><span>Pre-<br>Retirees</span></div>
<div class="t c sc" style="left:78px;top:618px;width:39px;height:159px;"><span>2</span></div>
<div class="t c sc" style="left:119px;top:618px;width:55px;height:159px;"><span>64, 64</span></div>
<div class="t c est" style="left:748px;top:618px;width:131px;height:159px;--dy:1.8px"><span><i class="s s1">2025 full price</i><i class="g g1">$1,768</i><i class="s s2">2026 full price</i><i class="s s2">w/21.1% hike</i><i class="g g2">$2,141</i></span></div>
<div class="t r" style="left:176px;top:618px;width:88px;height:19px;"><span>$20K</span></div>
<div class="t r" style="left:269px;top:618px;width:49.2px;height:19px;"><span>98%</span></div>
<div class="t c bi" style="left:323px;top:618px;width:189px;height:19px;"><span>Medicaid</span></div>
<div class="t c bi" style="left:514px;top:618px;width:232px;height:19px;"><span>Medicaid</span></div>
<div class="t c bi" style="left:881px;top:618px;width:273px;height:19px;"><span>Medicaid</span></div>
<div class="t lf it n" style="left:1156px;top:618px;width:191px;height:19px;"><span>Medicaid (both)</span></div>
<div class="t r" style="left:176px;top:638px;width:88px;height:19px;"><span>$30K</span></div>
<div class="t r" style="left:269px;top:638px;width:49.2px;height:19px;"><span>147%</span></div>
<div class="t r" style="left:323px;top:638px;width:80.5px;height:19px;"><span>0.00%</span></div>
<div class="t r" style="left:408px;top:638px;width:101.7px;height:19px;"><span>3.94%</span></div>
<div class="t r" style="left:514px;top:638px;width:123.6px;height:19px;"><span>$0</span></div>
<div class="t r" style="left:642px;top:638px;width:101.5px;height:19px;"><span>$99</span></div>
<div class="t r" style="left:881px;top:638px;width:98.3px;height:19px;"><span>$99</span></div>
<div class="t r" style="left:984px;top:638px;width:88.1px;height:19px;"><span>$1,182</span></div>
<div class="t c it" style="left:1077px;top:638px;width:77px;height:19px;"><span>infinite</span></div>
<div class="t lf it n" style="left:1156px;top:638px;width:191px;height:19px;"><span>CSR 94</span></div>
<div class="t r" style="left:176px;top:658px;width:88px;height:19px;"><span>$40K</span></div>
<div class="t r" style="left:269px;top:658px;width:49.2px;height:19px;"><span>196%</span></div>
<div class="t r" style="left:323px;top:658px;width:80.5px;height:19px;"><span>1.83%</span></div>
<div class="t r" style="left:408px;top:658px;width:101.7px;height:19px;"><span>6.41%</span></div>
<div class="t r" style="left:514px;top:658px;width:123.6px;height:19px;"><span>$61</span></div>
<div class="t r" style="left:642px;top:658px;width:101.5px;height:19px;"><span>$214</span></div>
<div class="t r" style="left:881px;top:658px;width:98.3px;height:19px;"><span>$153</span></div>
<div class="t r" style="left:984px;top:658px;width:88.1px;height:19px;"><span>$1,832</span></div>
<div class="t r" style="left:1077px;top:658px;width:74.7px;height:19px;"><span>250%</span></div>
<div class="t lf it n" style="left:1156px;top:658px;width:191px;height:19px;"><span>CSR 87</span></div>
<div class="t r" style="left:176px;top:678px;width:88px;height:19px;"><span>$50K</span></div>
<div class="t r" style="left:269px;top:678px;width:49.2px;height:19px;"><span>245%</span></div>
<div class="t r" style="left:323px;top:678px;width:80.5px;height:19px;"><span>3.78%</span></div>
<div class="t r" style="left:408px;top:678px;width:101.7px;height:19px;"><span>8.26%</span></div>
<div class="t r" style="left:514px;top:678px;width:123.6px;height:19px;"><span>$158</span></div>
<div class="t r" style="left:642px;top:678px;width:101.5px;height:19px;"><span>$344</span></div>
<div class="t r" style="left:881px;top:678px;width:98.3px;height:19px;"><span>$187</span></div>
<div class="t r" style="left:984px;top:678px;width:88.1px;height:19px;"><span>$2,240</span></div>
<div class="t r" style="left:1077px;top:678px;width:74.7px;height:19px;"><span>119%</span></div>
<div class="t lf it n" style="left:1156px;top:678px;width:191px;height:19px;"><span>CSR 73</span></div>
<div class="t r" style="left:176px;top:698px;width:88px;height:19px;"><span>$60K</span></div>
<div class="t r" style="left:269px;top:698px;width:49.2px;height:19px;"><span>294%</span></div>
<div class="t r" style="left:323px;top:698px;width:80.5px;height:19px;"><span>5.74%</span></div>
<div class="t r" style="left:408px;top:698px;width:101.7px;height:19px;"><span>9.78%</span></div>
<div class="t r" style="left:514px;top:698px;width:123.6px;height:19px;"><span>$287</span></div>
<div class="t r" style="left:642px;top:698px;width:101.5px;height:19px;"><span>$489</span></div>
<div class="t r" style="left:881px;top:698px;width:98.3px;height:19px;"><span>$202</span></div>
<div class="t r" style="left:984px;top:698px;width:88.1px;height:19px;"><span>$2,424</span></div>
<div class="t r" style="left:1077px;top:698px;width:74.7px;height:19px;"><span>70%</span></div>
<div class="t r" style="left:176px;top:718px;width:88px;height:19px;"><span>$70K</span></div>
<div class="t r" style="left:269px;top:718px;width:49.2px;height:19px;"><span>342%</span></div>
<div class="t r" style="left:323px;top:718px;width:80.5px;height:19px;"><span>7.06%</span></div>
<div class="t r" style="left:408px;top:718px;width:101.7px;height:19px;"><span>9.96%</span></div>
<div class="t r" style="left:514px;top:718px;width:123.6px;height:19px;"><span>$412</span></div>
<div class="t r" style="left:642px;top:718px;width:101.5px;height:19px;"><span>$581</span></div>
<div class="t r" style="left:881px;top:718px;width:98.3px;height:19px;"><span>$169</span></div>
<div class="t r" style="left:984px;top:718px;width:88.1px;height:19px;"><span>$2,030</span></div>
<div class="t r" style="left:1077px;top:718px;width:74.7px;height:19px;"><span>41%</span></div>
<div class="t r" style="left:176px;top:738px;width:88px;height:19px;"><span>$80K</span></div>
<div class="t r" style="left:269px;top:738px;width:49.2px;height:19px;"><span>391%</span></div>
<div class="t r" style="left:323px;top:738px;width:80.5px;height:19px;"><span>8.28%</span></div>
<div class="t r" style="left:408px;top:738px;width:101.7px;height:19px;"><span>9.96%</span></div>
<div class="t r" style="left:514px;top:738px;width:123.6px;height:19px;"><span>$552</span></div>
<div class="t r" style="left:642px;top:738px;width:101.5px;height:19px;"><span>$664</span></div>
<div class="t r" style="left:881px;top:738px;width:98.3px;height:19px;"><span>$112</span></div>
<div class="t r" style="left:984px;top:738px;width:88.1px;height:19px;"><span>$1,344</span></div>
<div class="t r" style="left:1077px;top:738px;width:74.7px;height:19px;"><span>20%</span></div>
<div class="t r" style="left:176px;top:758px;width:88px;height:19px;"><span>$90K</span></div>
<div class="t r" style="left:269px;top:758px;width:49.2px;height:19px;"><span>440%</span></div>
<div class="t r" style="left:323px;top:758px;width:80.5px;height:19px;"><span>8.50%</span></div>
<div class="t c bi" style="left:408px;top:758px;width:104px;height:19px;"><span>no cap</span></div>
<div class="t r" style="left:514px;top:758px;width:123.6px;height:19px;"><span>$638</span></div>
<div class="t r" style="left:642px;top:758px;width:101.5px;height:19px;"><span>$2,141</span></div>
<div class="t r" style="left:881px;top:758px;width:98.3px;height:19px;"><span>$1,504</span></div>
<div class="t r" style="left:984px;top:758px;width:88.1px;height:19px;"><span>$18,042</span></div>
<div class="t r" style="left:1077px;top:758px;width:74.7px;height:19px;"><span>236%</span></div>
<div class="t c hd0" style="left:1px;top:1px;width:320px;height:68px;"><span><i class="ttl">VIRGINIA</i><i class="sub">(Richmond, 23173 - Richmond City)</i></span></div>
<div class="t c h1" style="left:323px;top:1px;width:189px;height:68px;"><span>% of income<br>paid for<br>benchmark plan</span></div>
<div class="t c h1b" style="left:514px;top:1px;width:365px;height:68px;"><span>Monthly 2025 Premium<br>2nd Lowest-Cost Silver plan</span></div>
<div class="t c h1c" style="left:881px;top:1px;width:273px;height:68px;"><span>Premium Increase<br>if enhanced subsidies<br>AREN'T extended</span></div>
<div class="t c h3" style="left:1156px;top:1px;width:191px;height:132px;"><span>Additional<br>Financial Aid/<br>Other Notes</span></div>
<div class="t c h2" style="left:1px;top:71px;width:75px;height:62px;"><span>Scenario</span></div>
<div class="t c h2" style="left:78px;top:71px;width:39px;height:62px;"><span>HH<br>Size</span></div>
<div class="t c h2" style="left:119px;top:71px;width:55px;height:62px;"><span>Ages</span></div>
<div class="t c h2" style="left:176px;top:71px;width:91px;height:62px;"><span>Household<br>Income</span></div>
<div class="t c h2" style="left:269px;top:71px;width:52px;height:62px;"><span>2025<br>FPL</span></div>
<div class="t c h2" style="left:323px;top:71px;width:84px;height:62px;"><span>enhanced</span></div>
<div class="t c h2" style="left:408px;top:71px;width:104px;height:62px;"><span>unenhanced</span></div>
<div class="t c h2 h2b" style="left:514px;top:71px;width:127px;height:62px;"><span>with enhanced<br>subsidies</span></div>
<div class="t c h2 h2b" style="left:642px;top:71px;width:104px;height:62px;"><span>w/out<br>enhanced<br>subsidies</span></div>
<div class="t c h2 h2c" style="left:748px;top:71px;width:131px;height:62px;"><span>Est. Full Price<br>2026 = +21.1%</span></div>
<div class="t c h2" style="left:881px;top:71px;width:102px;height:62px;"><span>Monthly<br>Increase</span></div>
<div class="t c h2" style="left:984px;top:71px;width:91px;height:62px;"><span>Annual<br>Increase</span></div>
<div class="t c h2" style="left:1077px;top:71px;width:77px;height:62px;"><span>%<br>Increase</span></div>
</div>
</body></html>
